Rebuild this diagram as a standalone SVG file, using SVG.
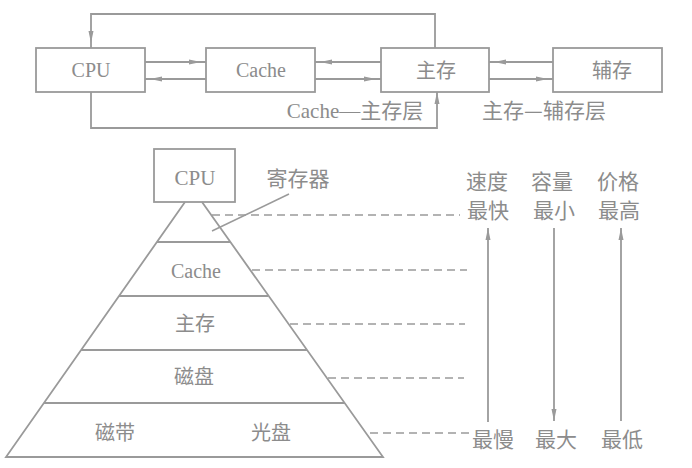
<svg xmlns="http://www.w3.org/2000/svg" width="692" height="468" viewBox="0 0 692 468">
<style>
.bx{fill:none;stroke:#9a9a9a;stroke-width:1.8}
.ln{fill:none;stroke:#9a9a9a;stroke-width:1.8}
.ds{fill:none;stroke:#9a9a9a;stroke-width:1.6;stroke-dasharray:8 5}
.t{font-family:"Liberation Serif","Noto Sans CJK SC",serif;font-size:20px;fill:#8c8c8c;text-anchor:middle}
.c{font-family:"Noto Sans CJK SC","Liberation Serif",sans-serif;font-size:20px;fill:#8c8c8c;text-anchor:middle}
</style>
<defs>
<marker id="a" markerUnits="userSpaceOnUse" markerWidth="20" markerHeight="8" refX="17" refY="3" orient="auto">
<path d="M0,0.5 L12,3 L0,5.5 z" fill="#9a9a9a"/>
</marker>
<marker id="b" markerUnits="userSpaceOnUse" markerWidth="14" markerHeight="8" refX="12" refY="3" orient="auto">
<path d="M0,0.5 L12,3 L0,5.5 z" fill="#9a9a9a"/>
</marker>
</defs>

<g id="cpu-top"><rect class="bx" x="36" y="48" width="109" height="44"/><text class="t" x="91" y="77">CPU</text></g>
<g id="cache-top"><rect class="bx" x="206" y="48" width="109" height="44"/><text class="t" x="261" y="77">Cache</text></g>
<g id="main-top"><rect class="bx" x="381" y="48" width="108" height="44"/><text class="c" x="436" y="78">主存</text></g>
<g id="aux-top"><rect class="bx" x="553" y="48" width="109" height="44"/><text class="c" x="612" y="78">辅存</text></g>

<g id="connectors">
<path class="ln" d="M435,48 V14 H91 V48" marker-end="url(#a)"/>
<path class="ln" d="M91,92 V128 H437 V92" marker-end="url(#b)"/>
<line class="ln" x1="145" y1="62" x2="206" y2="62" marker-end="url(#a)"/>
<line class="ln" x1="206" y1="79" x2="145" y2="79" marker-end="url(#a)"/>
<line class="ln" x1="381" y1="62" x2="315" y2="62" marker-end="url(#a)"/>
<line class="ln" x1="315" y1="79" x2="381" y2="79" marker-end="url(#a)"/>
<line class="ln" x1="553" y1="62" x2="489" y2="62" marker-end="url(#a)"/>
<line class="ln" x1="489" y1="79" x2="553" y2="79" marker-end="url(#a)"/>
<line class="ln" x1="488" y1="422" x2="488" y2="228" marker-end="url(#b)"/>
<line class="ln" x1="554" y1="228" x2="554" y2="421" marker-end="url(#b)"/>
<line class="ln" x1="621" y1="421" x2="621" y2="228" marker-end="url(#b)"/>
<line class="ln" x1="289" y1="194" x2="212" y2="231" style="stroke-width:1.5"/>
<line class="ds" x1="212" y1="215" x2="460" y2="215"/>
<line class="ds" x1="252" y1="270" x2="467" y2="270"/>
<line class="ds" x1="290" y1="324" x2="465" y2="324"/>
<line class="ds" x1="328" y1="378" x2="464" y2="378"/>
<line class="ds" x1="370" y1="433" x2="469" y2="433"/>
</g>

<g id="layer-labels">
<text class="t" x="355" y="118" style="font-size:21px">Cache—主存层</text>
<text class="c" x="544" y="118" style="font-size:21px">主存—辅存层</text>
</g>

<g id="pyramid">
<path class="ln" d="M185,202 L6,457 H383 L202,202"/>
<line class="ln" x1="157" y1="242" x2="230" y2="242"/>
<line class="ln" x1="119" y1="296" x2="268" y2="296"/>
<line class="ln" x1="81" y1="350" x2="307" y2="350"/>
<line class="ln" x1="44" y1="403" x2="345" y2="403"/>
</g>
<g id="cpu-reg"><rect class="bx" x="154" y="149" width="81" height="53"/><text class="t" x="195" y="185" style="font-size:21px">CPU</text></g>
<g id="reg-label"><text class="c" x="298" y="186" style="font-size:21px">寄存器</text></g>
<g id="cache-layer"><text class="t" x="196" y="278">Cache</text></g>
<g id="main-layer"><text class="c" x="195" y="331">主存</text></g>
<g id="disk-layer"><text class="c" x="194" y="384">磁盘</text></g>
<g id="tape-layer"><text class="c" x="115" y="440">磁带</text><text class="c" x="271" y="440">光盘</text></g>

<g id="speed"><text class="c" x="487" y="189" style="font-size:21px">速度</text><text class="c" x="488" y="218" style="font-size:21px">最快</text><text class="c" x="493" y="447" style="font-size:21px">最慢</text></g>
<g id="capacity"><text class="c" x="552" y="189" style="font-size:21px">容量</text><text class="c" x="554" y="218" style="font-size:21px">最小</text><text class="c" x="556" y="447" style="font-size:21px">最大</text></g>
<g id="price"><text class="c" x="618" y="189" style="font-size:21px">价格</text><text class="c" x="619" y="218" style="font-size:21px">最高</text><text class="c" x="622" y="447" style="font-size:21px">最低</text></g>
</svg>
